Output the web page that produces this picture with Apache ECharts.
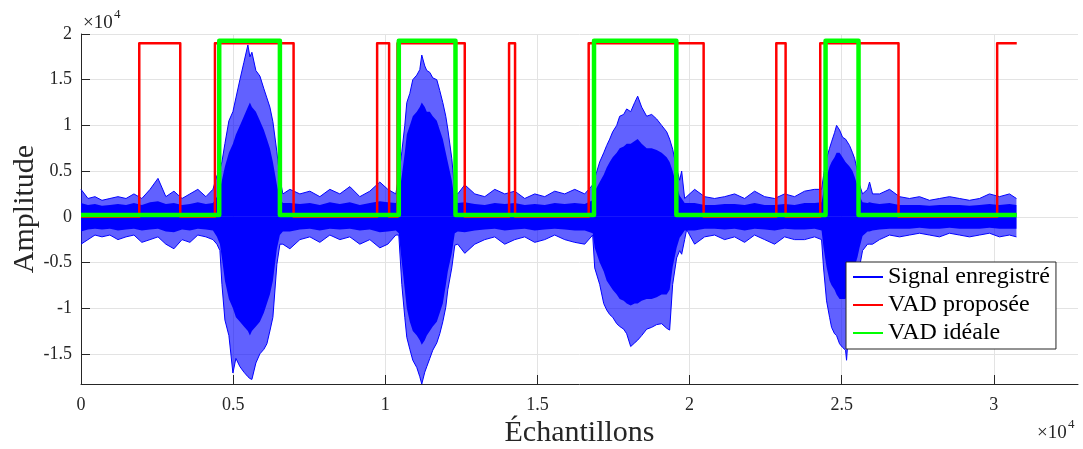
<!DOCTYPE html>
<html>
<head>
<meta charset="utf-8">
<script src="https://cdn.jsdelivr.net/npm/echarts@6/dist/echarts.min.js"></script>
<style>
  html, body { margin: 0; padding: 0; background: #fff; }
  #chart { width: 1083px; height: 449px; }
</style>
</head>
<body>
<div id="chart"></div>
<script>
// signal envelope (sample index, amplitude)
const sigX = [
  0, 230, 460, 690, 950, 1215, 1480, 1740, 2000, 2270, 2530, 2790, 3055, 3320, 3580, 3840, 4105,
  4336, 4467, 4566, 4632, 4730, 4861, 4993, 5091, 5223, 5354, 5485, 5551, 5617, 5748, 5880, 6011, 6110, 6208, 6307, 6438, 6537, 6635,
  6865, 7194, 7522, 7850, 8179, 8507, 8836, 9164, 9493, 9821, 10084,
  10347, 10445, 10544, 10642, 10708, 10807, 10905, 11036, 11135, 11200, 11299, 11365, 11464, 11562, 11694, 11792, 11891, 11989, 12055, 12186, 12285, 12383,
  12613, 12942, 13270, 13599, 13927, 14256, 14584, 14913, 15241, 15570, 15898, 16227, 16555,
  16818, 16884, 17048, 17180, 17278, 17377, 17475, 17607, 17705, 17836, 17935, 18066, 18197, 18296, 18427, 18592, 18756, 18920, 19084, 19249, 19347, 19446, 19577, 19676, 19742, 19840, 19905,
  20168, 20497, 20825, 21154, 21482, 21811, 22139, 22468, 22796, 23125, 23453, 23782, 24110,
  24340, 24405, 24504, 24603, 24668, 24767, 24833, 24931, 25030, 25128, 25161, 25260, 25358, 25424, 25522, 25588, 25687, 25851, 25917, 26015,
  26245, 26574, 26902, 27230, 27559, 27887, 28216, 28544, 28873, 29201, 29530, 29858, 30187, 30515, 30745
];
// outer peaks
const sigHi = [
  3000, 2000, 2200, 1800, 2000, 2200, 2000, 2500, 2000, 3000, 4200, 2200, 2800, 2000, 2500, 3000, 2200,
  3000, 4500, 5200, 6000, 8000, 10500, 11500, 13000, 15000, 16900, 18800, 17500, 18000, 16000, 15400, 14000, 13000, 12000, 10400, 7100, 4200, 2500,
  3000, 2500, 2800, 2200, 3000, 2500, 3300, 2200, 2800, 3800, 3000,
  2500, 4500, 7100, 10000, 12500, 13500, 15000, 15500, 16100, 17700, 16500, 16000, 15800, 15200, 15000, 13800, 12500, 11000, 9600, 6400, 2800, 2500,
  3500, 2500, 2200, 3000, 2500, 2800, 2000, 2500, 2200, 2800, 2500, 3000, 2500,
  3500, 4200, 6000, 7000, 7800, 8500, 9300, 10000, 11000, 11200, 11800, 11500, 12500, 13200, 12000, 11000, 11200, 10700, 10000, 9300, 8500, 7400, 5300, 4000, 5000, 2000, 2000,
  3000, 2200, 2000, 2200, 2500, 2000, 2800, 2200, 2000, 2500, 2200, 2800, 3000,
  3000, 4500, 6400, 7500, 8200, 9200, 10000, 9500, 8700, 8500, 8300, 7800, 7000, 6400, 5000, 3500, 2500, 3000, 3800, 2500,
  2500, 3000, 2200, 2000, 2200, 1800, 2000, 2200, 2000, 1800, 2000, 2500, 2200, 2500, 2000
];
const sigLo = [
  -3000, -2500, -2000, -2200, -2000, -2500, -2200, -2000, -2800, -2500, -2200, -3000, -3500, -2500, -2800, -2000, -2200,
  -2500, -3000, -3700, -7400, -11300, -13000, -17100, -15500, -16400, -17000, -17500, -17700, -17800, -16000, -15000, -14500, -13900, -12500, -11000, -5200, -3000, -3000,
  -3500, -2500, -2200, -2800, -2000, -2500, -2200, -3000, -2500, -3400, -3000,
  -2000, -2000, -7400, -11000, -13200, -14500, -15700, -16500, -17500, -18300, -17000, -16400, -15500, -14600, -13800, -12800, -11500, -9900, -8000, -5600, -3100, -3000,
  -4000, -3000, -2500, -2200, -3000, -2500, -2200, -2800, -2500, -2000, -2500, -2800, -3000,
  -2000, -5600, -7400, -9500, -10200, -10700, -11000, -11700, -12000, -12300, -12800, -14200, -13800, -13500, -13000, -12300, -12100, -11800, -11700, -12200, -12400, -7400, -4500, -3700, -4100, -2500, -1400,
  -3000, -2200, -2000, -2500, -2200, -2800, -2000, -2500, -3000, -2200, -2500, -2500, -2200,
  -2500, -5600, -9200, -11000, -12100, -12800, -13000, -13900, -14300, -14600, -15700, -11000, -9000, -8000, -7400, -5500, -3700, -3000, -3000, -3000,
  -2500, -2000, -2200, -2000, -1800, -2000, -2200, -1800, -2000, -2200, -2000, -1800, -2200, -2000, -2200
];
// dense core of the waveform
const coreHi = [
  1500, 1300, 1400, 1200, 1300, 1400, 1300, 1500, 1300, 1600, 1700, 1400, 1500, 1300, 1400, 1600, 1400,
  1500, 2200, 3000, 4000, 5500, 7000, 8000, 9000, 10000, 11000, 12000, 12500, 12000, 11500, 10500, 9500, 8500, 7500, 6000, 3500, 2000, 1500,
  1500, 1400, 1500, 1300, 1600, 1400, 1600, 1300, 1500, 1700, 1600,
  1500, 2300, 4500, 7000, 9000, 10000, 11000, 11500, 12000, 12500, 12000, 11500, 11500, 11000, 10500, 9500, 8500, 7000, 6000, 4000, 1800, 1500,
  1600, 1400, 1300, 1500, 1400, 1500, 1300, 1400, 1300, 1500, 1400, 1500, 1400,
  1800, 2800, 3800, 4600, 5400, 6000, 6500, 7000, 7500, 7700, 8000, 8000, 8300, 8500, 8000, 7500, 7500, 7300, 7000, 6500, 6000, 5000, 3400, 2300, 2000, 1500, 1500,
  1500, 1300, 1300, 1400, 1400, 1300, 1500, 1300, 1300, 1400, 1300, 1500, 1500,
  1600, 2800, 4400, 5500, 6000, 6500, 7000, 7000, 6500, 6000, 6000, 5500, 5000, 4400, 3400, 2300, 1600, 1500, 1600, 1500,
  1400, 1500, 1300, 1300, 1300, 1200, 1300, 1300, 1300, 1200, 1300, 1400, 1300, 1400, 1300
];
const coreLo = [
  -1600, -1400, -1300, -1400, -1300, -1500, -1400, -1300, -1500, -1400, -1300, -1600, -1700, -1400, -1500, -1300, -1400,
  -1500, -2200, -3000, -4500, -7000, -9000, -10000, -11000, -11500, -12000, -12500, -13000, -12500, -12000, -11500, -10500, -9500, -8500, -7000, -3500, -2000, -1600,
  -1600, -1400, -1300, -1500, -1300, -1400, -1300, -1500, -1400, -1700, -1600,
  -1500, -1800, -5000, -8000, -10000, -11500, -12500, -13000, -13500, -14000, -13500, -13000, -12500, -12000, -11500, -10500, -9500, -7500, -6000, -4000, -1800, -1600,
  -1700, -1500, -1400, -1300, -1500, -1400, -1300, -1500, -1400, -1300, -1400, -1500, -1500,
  -1800, -3400, -5000, -6000, -7000, -7500, -8000, -8500, -9000, -9200, -9500, -9700, -9500, -9500, -9200, -9000, -9000, -8800, -8500, -8500, -8000, -5500, -3400, -2300, -2000, -1500, -1400,
  -1500, -1300, -1300, -1400, -1300, -1500, -1300, -1400, -1500, -1300, -1400, -1400, -1300,
  -1500, -3400, -5500, -7000, -7500, -8000, -8500, -9000, -9000, -9000, -9000, -7500, -6500, -5500, -4400, -3400, -2100, -1600, -1600, -1500,
  -1400, -1300, -1300, -1300, -1200, -1300, -1300, -1200, -1300, -1300, -1300, -1200, -1300, -1300, -1300
];

// VAD decisions: sample indices where the decision toggles
const propEdges = [1915, 3262, 4402, 6987, 9733, 10127, 10403, 12613, 14069, 14266, 16686, 20464, 22852, 23158, 24297, 26869, 30111];
const idealEdges = [4543, 6537, 10445, 12308, 16861, 19567, 24471, 25555];
const signalEnd = 30755;
const propLevels = [0, 19000];
const idealLevels = [200, 19250];

const xTicks = [0, 5000, 10000, 15000, 20000, 25000, 30000];

function stepData(edges, levels) {
  const pts = [[0, levels[0]]];
  let on = 0;
  edges.forEach(e => {
    on = 1 - on;
    pts.push([e, levels[on]]);
  });
  pts.push([signalEnd, levels[on]]);
  return pts;
}

const FONT = "'Liberation Serif', 'Times New Roman', serif";
const INK = '#262626';
const FRINGE = 'rgba(0,0,255,0.62)';

const chart = echarts.init(document.getElementById('chart'), null, { renderer: 'canvas' });

const bandSeries = (name, vals, color, lineWidth) => ({
  name: name,
  type: 'line',
  data: sigX.map((x, i) => [x, vals[i]]),
  symbol: 'none',
  silent: true,
  lineStyle: { color: '#0000ff', width: lineWidth },
  itemStyle: { color: '#0000ff' },
  areaStyle: { color: color, opacity: 1 },
  z: 2
});

const option = {
  animation: false,
  grid: { left: 81, right: 5, top: 34, bottom: 65, outerBoundsMode: 'none', containLabel: false },
  xAxis: {
    type: 'value',
    min: 0,
    max: 32768,
    splitNumber: 7,
    minInterval: 5000,
    maxInterval: 5000,
    name: 'Échantillons',
    nameLocation: 'middle',
    nameGap: 34,
    nameMoveOverlap: false,
    nameTextStyle: { fontFamily: FONT, fontSize: 30, color: INK },
    axisLine: { onZero: false, lineStyle: { color: INK, width: 1 } },
    axisTick: { inside: true, length: 9, lineStyle: { color: INK }, customValues: xTicks },
    axisLabel: {
      fontFamily: FONT, fontSize: 18, color: INK, margin: 12,
      customValues: xTicks,
      formatter: v => String(v / 10000)
    },
    splitLine: { show: true, lineStyle: { color: '#e3e3e3', width: 1 } }
  },
  yAxis: {
    type: 'value',
    min: -18300,
    max: 20000,
    splitNumber: 8,
    minInterval: 5000,
    maxInterval: 5000,
    name: 'Amplitude',
    nameLocation: 'middle',
    nameGap: 41,
    nameMoveOverlap: false,
    nameTextStyle: { fontFamily: FONT, fontSize: 30, color: INK },
    axisLine: { show: true, onZero: false, lineStyle: { color: INK, width: 1 } },
    axisTick: { show: true, inside: true, length: 9, lineStyle: { color: INK } },
    axisLabel: {
      fontFamily: FONT, fontSize: 18, color: INK, margin: 9,
      showMinLabel: false,
      formatter: v => String(v / 10000)
    },
    splitLine: { show: true, showMinLine: false, lineStyle: { color: '#e3e3e3', width: 1 } }
  },
  legend: {
    data: ['Signal enregistré', 'VAD proposée', 'VAD idéale'],
    orient: 'vertical',
    left: 846,
    top: 262,
    selectedMode: false,
    backgroundColor: '#fff',
    borderColor: INK,
    borderWidth: 1,
    borderRadius: 0,
    padding: [3, 6, 4, 6],
    itemWidth: 30,
    itemHeight: 14,
    itemGap: 4,
    itemStyle: { opacity: 0 },
    textStyle: { fontFamily: FONT, fontSize: 24, color: '#000' }
  },
  graphic: [
    { type: 'text', left: 83, top: 14, style: { text: '×10', font: '19px ' + FONT, fill: INK } },
    { type: 'text', left: 114, top: 8, style: { text: '4', font: '13px ' + FONT, fill: INK } },
    { type: 'text', left: 1037, top: 424, style: { text: '×10', font: '19px ' + FONT, fill: INK } },
    { type: 'text', left: 1068, top: 418, style: { text: '4', font: '13px ' + FONT, fill: INK } }
  ],
  series: [
    bandSeries('Signal enregistré', sigHi, FRINGE, 1),
    bandSeries('sigLo', sigLo, FRINGE, 1),
    bandSeries('coreHi', coreHi, '#0000ff', 0),
    bandSeries('coreLo', coreLo, '#0000ff', 0),
    {
      name: 'VAD proposée',
      type: 'line',
      step: 'end',
      data: stepData(propEdges, propLevels),
      symbol: 'none',
      lineStyle: { color: '#ff0000', width: 2.5, join: 'round' },
      itemStyle: { color: '#ff0000' },
      z: 3
    },
    {
      name: 'VAD idéale',
      type: 'line',
      step: 'end',
      data: stepData(idealEdges, idealLevels),
      symbol: 'none',
      lineStyle: { color: '#00ff00', width: 4.5, join: 'round' },
      itemStyle: { color: '#00ff00' },
      z: 4
    }
  ]
};

chart.setOption(option);
</script>
</body>
</html>
